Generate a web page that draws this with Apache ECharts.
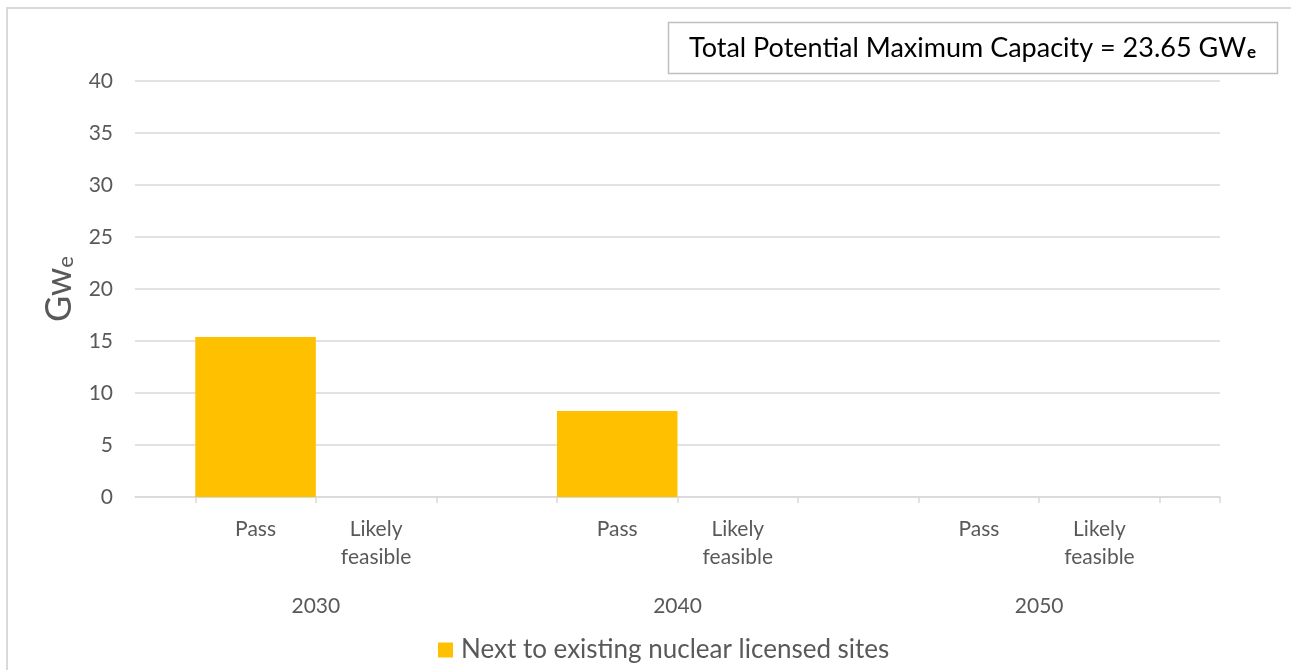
<!DOCTYPE html>
<html>
<head>
<meta charset="utf-8">
<script src="https://cdn.jsdelivr.net/npm/echarts@6/dist/echarts.min.js"></script>
<style>
  html, body { margin: 0; padding: 0; background: #fff; }
  #chart { width: 1291px; height: 670px; }
</style>
</head>
<body>
<div id="chart"></div>
<script>
// data
var years = ['2030', '2040', '2050']
var statuses = ['Pass', 'Likely\nfeasible']
// GWe per year, in the order Pass, Likely feasible
var nextToNuclear = [
  [15.38, 0],
  [8.27, 0],
  [0, 0]
]
var yTicks = [0, 5, 10, 15, 20, 25, 30, 35, 40]

var chart = echarts.init(document.getElementById('chart'))

// bar axis: a blank slot between the year groups, half slots at both ends
var slots = ['']
var slotValues = [0]
years.forEach(function (y, i) {
  statuses.forEach(function (s, j) {
    slots.push(s)
    slotValues.push(nextToNuclear[i][j])
  })
  slots.push('')
  slotValues.push(0)
})

// axis with half-width slots, ticks between the bars
var halfSlots = []
for (var k = 0; k < (slots.length - 1) * 2; k++) halfSlots.push(String(k))

var total = 0
nextToNuclear.forEach(function (r) { r.forEach(function (v) { total += v }) })

var font = 'Lato, "Liberation Sans", sans-serif'
var grey = '#595959'
var line = '#d9d9d9'

var left = 135
var right = 1220
var band = (right - left) / (halfSlots.length / 2)

var option = {
  animation: false,
  textStyle: { fontFamily: font },
  grid: [
    { left: left - band / 2, right: 1291 - right - band / 2, top: 81, bottom: 173, outerBoundsMode: 'none' },
    { left: left, right: 1291 - right, top: 81, bottom: 173, outerBoundsMode: 'none' }
  ],
  xAxis: [
    {
      type: 'category',
      gridIndex: 0,
      position: 'bottom',
      data: slots,
      axisLine: { show: false },
      axisTick: { show: false },
      axisLabel: { interval: 0, color: grey, fontSize: 21, lineHeight: 28, margin: 18, fontFamily: font }
    },
    {
      type: 'category',
      gridIndex: 1,
      position: 'bottom',
      data: halfSlots,
      axisLine: { lineStyle: { color: line, width: 1.5 } },
      axisTick: {
        show: true,
        length: 6,
        lineStyle: { color: line, width: 1.5 },
        interval: function (i) { return i % 2 === 1 }
      },
      axisLabel: { show: false }
    },
    {
      type: 'category',
      gridIndex: 1,
      position: 'bottom',
      data: years,
      axisLine: { show: false },
      axisTick: { show: false },
      axisLabel: { color: grey, fontSize: 21, margin: 99, fontFamily: font }
    }
  ],
  yAxis: [
    { type: 'value', gridIndex: 0, min: 0, max: 40, interval: 5, show: false },
    {
      type: 'value',
      gridIndex: 1,
      min: yTicks[0],
      max: yTicks[yTicks.length - 1],
      interval: yTicks[1] - yTicks[0],
      axisLine: { show: false },
      axisTick: { show: false },
      splitLine: { lineStyle: { color: line, width: 1.5 } },
      axisLabel: { color: grey, fontSize: 21, margin: 22, fontFamily: font },
      name: '{a|Gw}{b|e}',
      nameLocation: 'middle',
      nameGap: 47,
      nameTextStyle: {
        rich: {
          a: { fontSize: 36, color: grey, fontFamily: font },
          b: { fontSize: 22, color: grey, fontFamily: font, padding: [12, 0, 0, 0] }
        }
      }
    }
  ],
  legend: {
    left: 433,
    top: 632,
    icon: 'rect',
    itemWidth: 15,
    itemHeight: 15,
    textStyle: { color: grey, fontSize: 26, fontFamily: font, padding: [0, 0, 0, 3] },
    data: ['Next to existing nuclear licensed sites']
  },
  series: [
    {
      name: 'Next to existing nuclear licensed sites',
      type: 'bar',
      xAxisIndex: 0,
      yAxisIndex: 0,
      barWidth: '100%',
      itemStyle: { color: '#FFC000' },
      data: slotValues
    }
  ],
  graphic: [
    {
      type: 'rect',
      shape: { x: 7, y: 8, width: 1300, height: 700 },
      style: { fill: null, stroke: '#d9d9d9', lineWidth: 2 },
      silent: true
    },
    {
      type: 'rect',
      shape: { x: 668.5, y: 22.5, width: 609, height: 51 },
      style: { fill: '#fff', stroke: '#bfbfbf', lineWidth: 1.5 },
      z: 10
    },
    {
      type: 'text',
      x: 689,
      y: 48,
      z: 11,
      style: {
        text: '{t|Total Potential Maximum Capacity = ' + total.toFixed(2) + ' GW}{s|e}',
        verticalAlign: 'middle',
        rich: {
          t: { fontSize: 27, fill: '#000', fontFamily: font },
          s: { fontSize: 17, fontWeight: 'bold', fill: '#000', fontFamily: font, padding: [10, 0, 0, 1] }
        }
      }
    }
  ]
}

chart.setOption(option)
</script>
</body>
</html>
